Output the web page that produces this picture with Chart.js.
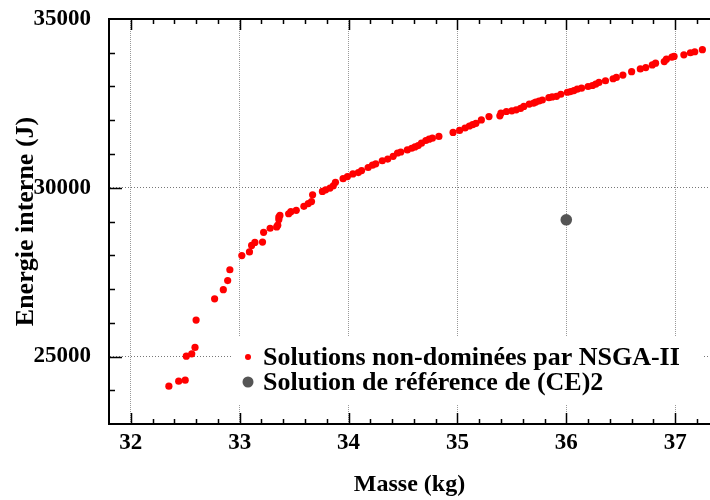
<!DOCTYPE html>
<html><head><meta charset="utf-8">
<script src="https://cdn.jsdelivr.net/npm/chart.js@4/dist/chart.umd.min.js"></script>
<style>html,body{margin:0;padding:0;background:#fff}#c{display:block}</style>
</head><body>
<canvas id="c" width="710" height="500"></canvas>
<script>
// ---- data ----
const nsgaMasse = [
  32.35,32.44,32.50,32.51,32.56,32.59,32.60,32.77,32.85,32.89,32.91,
  33.02,33.09,33.11,33.14,33.21,33.22,33.28,33.34,33.35,33.36,33.36,33.37,33.45,33.47,33.52,33.59,33.63,33.66,33.67,33.76,33.79,33.83,33.86,33.88,33.95,33.99,
  34.04,34.09,34.12,34.18,34.22,34.25,34.31,34.36,34.41,34.45,34.48,34.54,34.58,34.61,34.64,34.67,34.71,34.74,34.77,34.83,34.96,
  35.02,35.07,35.11,35.14,35.17,35.22,35.29,35.39,35.40,35.45,35.50,35.54,35.58,35.61,35.66,35.70,35.72,35.75,35.78,35.84,35.87,35.91,35.95,
  36.01,36.04,36.07,36.10,36.14,36.20,36.24,36.27,36.30,36.36,36.43,36.46,36.52,36.60,36.68,36.73,36.79,36.82,36.90,36.92,36.97,36.99,
  37.08,37.14,37.18,37.25
];
const nsgaEnergie = [
  24120,24270,24300,25010,25080,25270,26080,26710,26980,27250,27570,
  27990,28100,28290,28380,28390,28680,28800,28840,28890,29060,29130,29180,29230,29290,29330,29450,29530,29590,29790,29890,29940,29990,30060,30160,30270,30330,
  30410,30450,30510,30600,30670,30710,30800,30850,30930,31030,31060,31120,31170,31210,31250,31320,31400,31440,31470,31520,31640,
  31700,31770,31830,31870,31910,32010,32110,32130,32210,32260,32280,32310,32350,32410,32480,32510,32540,32570,32600,32670,32690,32710,32770,
  32830,32850,32880,32920,32950,33000,33030,33070,33120,33170,33230,33270,33340,33440,33520,33560,33640,33690,33740,33810,33870,33890,
  33940,34000,34030,34090
];
const refMasse = [36.0];
const refEnergie = [29050];
const xTickValues = [32, 33, 34, 35, 36, 37];
const yTickValues = [25000, 30000, 35000];
const seriesLabels = ['Solutions non-dominées par NSGA-II', 'Solution de référence de (CE)2'];
const xTitle = 'Masse (kg)';
const yTitle = 'Energie interne (J)';

// ---- chart ----
const SERIF = '"Liberation Serif", "Times New Roman", serif';

const frameAndLegend = {
  id: 'frameAndLegend',
  afterDatasetsDraw(chart) {
    const ctx = chart.ctx;
    ctx.save();
    ctx.fillStyle = '#ffffff';
    ctx.fillRect(233, 336, 470, 68);
    chart.data.datasets.forEach((ds, i) => {
      const cy = 357 + i * 25;
      ctx.beginPath();
      ctx.arc(248, cy, ds.legendRadius, 0, Math.PI * 2);
      ctx.fillStyle = ds.backgroundColor;
      ctx.fill();
      ctx.fillStyle = '#000';
      ctx.font = 'bold 26px ' + SERIF;
      ctx.textBaseline = 'middle';
      ctx.textAlign = 'left';
      ctx.fillText(ds.label, 263, cy + 1);
    });
    ctx.restore();
  },
  afterDraw(chart) {
    const {ctx, chartArea: a, scales: {x, y}} = chart;
    ctx.save();
    ctx.strokeStyle = '#000';
    ctx.lineWidth = 2;
    ctx.beginPath();
    ctx.moveTo(a.left, a.top); ctx.lineTo(a.right, a.top);
    ctx.stroke();
    ctx.lineWidth = 1.5;
    ctx.beginPath();
    const x0 = Math.ceil(x.min * 5), x1 = Math.floor(x.max * 5);
    for (let k = x0; k <= x1; k++) {
      const px = Math.round(x.getPixelForValue(k / 5)) + 0.5;
      if (px <= a.left + 1) continue;
      const len = (k % 5 === 0) ? 11 : 5;
      ctx.moveTo(px, a.bottom); ctx.lineTo(px, a.bottom - len);
      ctx.moveTo(px, a.top); ctx.lineTo(px, a.top + len);
    }
    for (let v = Math.ceil(y.min / 1000); v <= Math.floor(y.max / 1000); v++) {
      const py = Math.round(y.getPixelForValue(v * 1000)) + 0.5;
      if (py >= a.bottom - 1 || py <= a.top + 1) continue;
      const len = (v % 5 === 0) ? 13 : 6;
      ctx.moveTo(a.left, py); ctx.lineTo(a.left + len, py);
    }
    ctx.stroke();
    ctx.restore();
  }
};

new Chart(document.getElementById('c'), {
  type: 'scatter',
  data: {
    datasets: [
      {
        label: seriesLabels[0],
        data: nsgaMasse.map((m, i) => ({x: m, y: nsgaEnergie[i]})),
        backgroundColor: '#ff0000',
        borderColor: '#ff0000',
        borderWidth: 0,
        pointRadius: 3.6,
        pointHoverRadius: 3.6,
        legendRadius: 3
      },
      {
        label: seriesLabels[1],
        data: refMasse.map((m, i) => ({x: m, y: refEnergie[i]})),
        backgroundColor: '#555555',
        borderColor: '#555555',
        borderWidth: 0,
        pointRadius: 5.8,
        pointHoverRadius: 5.8,
        legendRadius: 5.5
      }
    ]
  },
  options: {
    responsive: false,
    animation: false,
    devicePixelRatio: 1,
    layout: {autoPadding: false, padding: {top: 19, right: 0, left: 0, bottom: 0}},
    plugins: {legend: {display: false}, tooltip: {enabled: false}},
    scales: {
      x: {
        type: 'linear',
        min: 31.8,
        max: 37.32,
        afterBuildTicks: s => { s.ticks = xTickValues.map(v => ({value: v})); },
        afterFit: s => { s.height = 76; s.paddingRight = 0; s.paddingLeft = 0; },
        ticks: {
          color: '#000',
          font: {family: SERIF, size: 23, weight: 'bold'},
          padding: 5,
          maxRotation: 0,
          autoSkip: false,
          callback: v => String(v)
        },
        grid: {color: '#999', lineWidth: 1, drawTicks: false},
        border: {display: true, color: '#000', width: 2, dash: [1, 1]},
        title: {
          display: true, text: xTitle, color: '#000',
          font: {family: SERIF, size: 24, weight: 'bold'},
          padding: {top: 0, bottom: 1}
        }
      },
      y: {
        type: 'linear',
        min: 23000,
        max: 35000,
        afterBuildTicks: s => { s.ticks = yTickValues.map(v => ({value: v})); },
        afterFit: s => { s.width = 109; s.paddingTop = 0; s.paddingBottom = 0; },
        ticks: {
          color: '#000',
          font: {family: SERIF, size: 23, weight: 'bold'},
          padding: 18,
          autoSkip: false,
          callback: v => String(v)
        },
        grid: {color: '#777', lineWidth: 1, drawTicks: false},
        border: {display: true, color: '#000', width: 2, dash: [1, 2]},
        title: {
          display: true, text: yTitle, color: '#000',
          font: {family: SERIF, size: 26, weight: 'bold'},
          padding: {top: 11, bottom: 0}
        }
      }
    }
  },
  plugins: [frameAndLegend]
});
</script>
</body></html>
